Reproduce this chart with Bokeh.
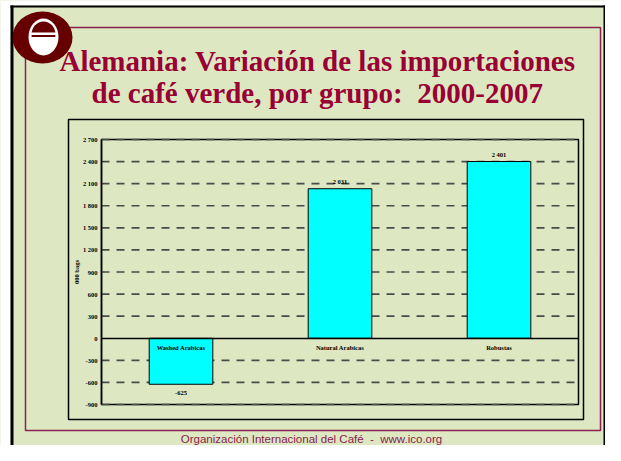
import numpy as np
from bokeh.plotting import figure
from bokeh.models import ColumnDataSource, Range1d, FixedTicker, LinearAxis
from bokeh.core.properties import value, field
from bokeh.embed import file_html
from bokeh.resources import INLINE

# ---------------- data ----------------
categories = ["Washed Arabicas", "Natural Arabicas", "Robustas"]
changes = [-625, 2031, 2401]
y_ticks = [-900, -600, -300, 0, 300, 600, 900, 1200, 1500, 1800, 2100, 2400, 2700]
y_tick_labels = ["-900", "-600", "-300", "0", "300", "600", "900",
                 "1 200", "1 500", "1 800", "2 100", "2 400", "2 700"]
title_lines = ["Alemania: Variación de las importaciones",
               "de café verde, por grupo:\u00a0 2000-2007"]
y_label = "000 bags"
footer_text = ["Organización Internacional del Café\u00a0 -\u00a0 www.ico.org"]

# ---------------- style / layout (slide pixels) ----------------
W, H = 605, 445
GREEN = "#DDE8C2"
MAROON = "#8A2050"
TITLE_RED = "#990033"
LOGO = "#660000"
SERIF = "Liberation Serif"
L, R, T, B = 101, 578, 139, 404          # chart plot area on the slide

p = figure(width=W, height=H, x_range=Range1d(0, W), y_range=Range1d(H, 0),
           x_axis_type=None, y_axis_type=None, title=None,
           output_backend="svg", toolbar_location=None, min_border=0,
           background_fill_color=GREEN, border_fill_color=GREEN,
           outline_line_color=None)

# chart coordinate systems (mapped onto the chart area through Bokeh scales)
n = len(categories)
slot = (R - L) / n
k = (y_ticks[-1] - y_ticks[0]) / (B - T)
p.extra_x_ranges = {"cat": Range1d(start=-L / slot, end=n + (W - R) / slot)}
p.extra_y_ranges = {"val": Range1d(start=y_ticks[-1] - (H - T) * k,
                                   end=y_ticks[-1] + T * k)}
CH = dict(x_range_name="cat", y_range_name="val")

# ---------------- slide decorations ----------------
p.quad(left=[0], right=[10], top=[0], bottom=[H], fill_color="white", line_color=None)
p.quad(left=[10], right=[W], top=[0], bottom=[5], fill_color="white", line_color=None)
p.quad(left=[10], right=[W], top=[5], bottom=[7], fill_color="black", line_color=None)
p.quad(left=[10], right=[13], top=[5], bottom=[H], fill_color="black", line_color=None)
p.quad(left=[W - 2], right=[W], top=[5], bottom=[H], fill_color="black", line_color=None)
# maroon inner frame
p.quad(left=[25], right=[600], top=[27], bottom=[430], fill_alpha=0,
       line_color=MAROON, line_width=1.5)
# chart box
p.quad(left=[68], right=[583], top=[119], bottom=[419], fill_alpha=0,
       line_color="black", line_width=1.5)

# logo
LX, LY = 42, 37
p.ellipse(x=[LX], y=[LY], width=[60], height=[52], fill_color=LOGO, line_color=None)
p.ellipse(x=[LX + 1], y=[LY - 0.5], width=[30], height=[37], fill_color="white", line_color=None)
p.ellipse(x=[LX + 1], y=[LY - 3], width=[24], height=[26], fill_color=LOGO, line_color=None)
p.quad(left=[LX - 13], right=[LX + 15], top=[LY - 5], bottom=[LY - 2.5],
       fill_color="white", line_color=None)
th = np.linspace(0, np.pi, 40)
p.patch(x=LX + 1 + 12 * np.cos(th), y=LY - 0.5 + 16.5 * np.sin(th), fill_color="white",
        line_color=None)

# title
tsrc = ColumnDataSource(dict(x=[317, 317], y=[60, 92], t=title_lines))
p.text(x="x", y="y", text="t", source=tsrc, text_align="center",
       text_baseline="alphabetic", text_font=value(SERIF), text_font_style="bold",
       text_font_size="29px", text_color=TITLE_RED)

# footer
fsrc = ColumnDataSource(dict(x=[311], y=[438], t=footer_text))
p.text(x="x", y="y", text="t", source=fsrc, text_align="center",
       text_baseline="alphabetic", text_font=value("Liberation Sans"),
       text_font_size="11.5px", text_color=MAROON)

# ---------------- chart ----------------
positions = [i + 0.5 for i in range(n)]

# plot-area outline
p.quad(left=[0], right=[n], top=[y_ticks[-1]], bottom=[y_ticks[0]], fill_alpha=0,
       line_color="black", line_width=1.5, **CH)

# dashed gridlines
grid_vals = [t for t in y_ticks if t != 0]
p.segment(x0=[0] * len(grid_vals), x1=[n] * len(grid_vals), y0=grid_vals, y1=grid_vals,
          line_color="#4a4a4a", line_width=1.7, line_dash="8 7", **CH)

labels = [f"{v:,}".replace(",", " ") for v in changes]
src = ColumnDataSource(dict(
    pos=positions, val=changes, label=labels,
    bl=["top" if v < 0 else "alphabetic" for v in changes],
    yoff=[6.5 if v < 0 else -7.5 for v in changes],
))
p.vbar(x="pos", top="val", bottom=0, width=0.4, source=src,
       fill_color="#00FFFF", line_color="black", line_width=1, **CH)
p.text(x="pos", y="val", text="label", source=src,
       text_align="center", text_baseline=field("bl"), y_offset="yoff",
       text_font=value(SERIF), text_font_style="bold",
       text_font_size="6.5px", text_color="black", **CH)

# y axis
yax = LinearAxis(y_range_name="val", fixed_location=L,
                 bounds=(y_ticks[0], y_ticks[-1]),
                 ticker=FixedTicker(ticks=y_ticks),
                 major_label_overrides={t: l for t, l in zip(y_ticks, y_tick_labels)})
yax.axis_line_color = "black"
yax.axis_line_width = 1.5
yax.major_tick_line_color = None
yax.minor_tick_line_color = None
yax.major_tick_out = 0
yax.major_tick_in = 0
yax.major_label_standoff = 4
yax.major_label_text_font = SERIF
yax.major_label_text_font_style = "bold"
yax.major_label_text_font_size = "6.5px"
yax.major_label_text_color = "black"
yax.axis_label = y_label
yax.axis_label_text_font = SERIF
yax.axis_label_text_font_style = "bold"
yax.axis_label_text_font_size = "6.5px"
yax.axis_label_text_color = "black"
yax.axis_label_standoff = 0
p.add_layout(yax, "left")

# category axis on the zero line
xax = LinearAxis(x_range_name="cat", y_range_name="val", fixed_location=0,
                 bounds=(0, n), ticker=FixedTicker(ticks=positions),
                 major_label_overrides={pp: c for pp, c in zip(positions, categories)})
xax.axis_line_color = "black"
xax.axis_line_width = 1.5
xax.major_tick_line_color = None
xax.minor_tick_line_color = None
xax.major_tick_out = 0
xax.major_tick_in = 0
xax.major_label_standoff = 6
xax.major_label_text_font = SERIF
xax.major_label_text_font_style = "bold"
xax.major_label_text_font_size = "6.5px"
xax.major_label_text_color = "black"
p.add_layout(xax, "below")

open("out.html", "w").write(file_html(p, INLINE))
